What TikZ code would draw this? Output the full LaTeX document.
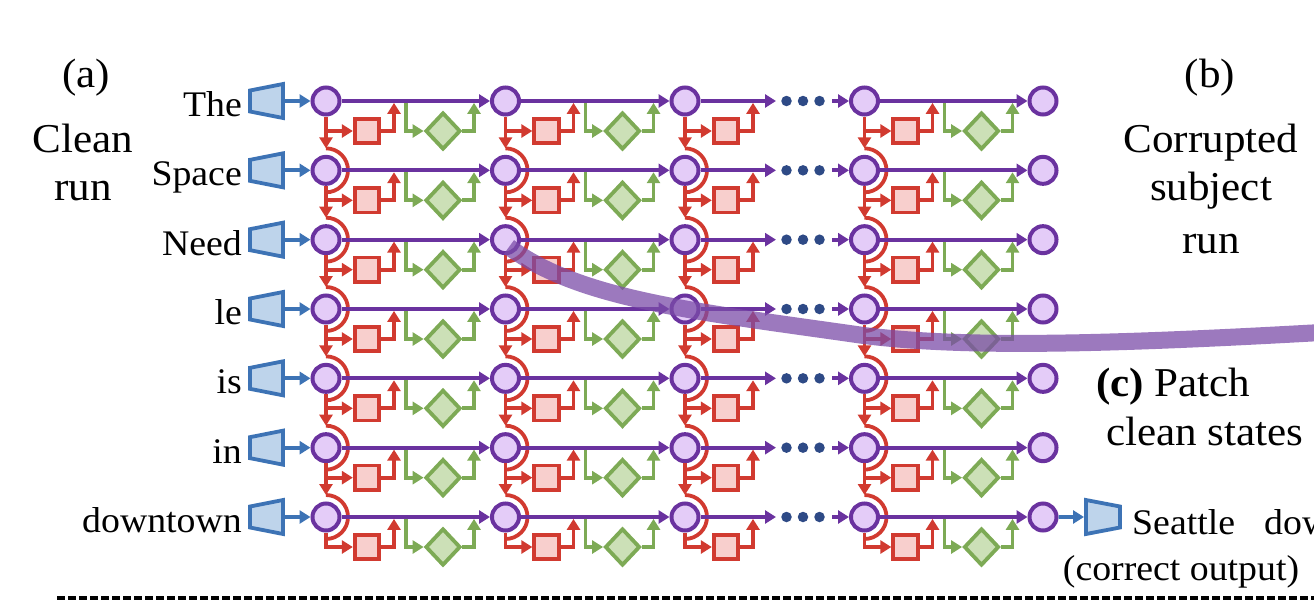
\documentclass[tikz,border=0pt]{standalone}
\usepackage{fontspec}
\setmainfont{Liberation Serif}
\usetikzlibrary{arrows.meta,shapes.geometric}
\definecolor{pur}{HTML}{6A329F}
\definecolor{purfill}{HTML}{E4CCF8}
\definecolor{rd}{HTML}{D13A30}
\definecolor{rdfill}{HTML}{F8CFCD}
\definecolor{gn}{HTML}{7DAA55}
\definecolor{gnfill}{HTML}{CCE0B7}
\definecolor{bl}{HTML}{3D73B5}
\definecolor{blfill}{HTML}{BED4EB}
\definecolor{dotc}{HTML}{2E4A86}
\definecolor{band}{HTML}{7B4CA8}
\newcommand{\sx}[1]{\scalebox{1.05}[1]{#1}}
\begin{document}
\begin{tikzpicture}[x=1pt,y=-1pt,
  cell/.style={circle,draw=pur,fill=purfill,line width=4pt,minimum size=27pt,inner sep=0pt},
  attn/.style={rectangle,draw=rd,fill=rdfill,line width=3.8pt,minimum size=24.5pt,inner sep=0pt},
  mlp/.style={diamond,draw=gn,fill=gnfill,line width=3.8pt,minimum width=35pt,minimum height=37pt,inner sep=0pt},
  embst/.style={draw=bl,fill=blfill,line width=3.8pt,line join=miter},
  arrtip/.style={-{Triangle[length=11pt,width=13pt]}},
  purarr/.style={draw=pur,line width=3.8pt,arrtip},
  redarr/.style={draw=rd,line width=3.8pt,arrtip},
  redline/.style={draw=rd,line width=3.8pt},
  grnarr/.style={draw=gn,line width=3.8pt,arrtip},
  bluarr/.style={draw=bl,line width=3.8pt,arrtip},
  dotn/.style={circle,fill=dotc,minimum size=10.5pt,inner sep=0pt},
  word/.style={font=\fontsize{36}{40}\selectfont,inner sep=0pt},
  panel/.style={font=\fontsize{41}{46}\selectfont,inner sep=0pt},
]
\useasboundingbox (0,0) rectangle (1314,600);
\clip (0,0) rectangle (1314,600);

% cells
\foreach \r in {1,...,7}{
  \pgfmathsetmacro\cy{101+(\r-1)*69.333}
  \foreach \c/\cx in {1/326,2/505.5,3/685,4/864.5,5/1043}{
    \node[cell] (c\c-\r) at (\cx,\cy) {};
  }
}

% attention blocks, arcs, red connectors
\foreach \r in {1,...,7}{
  \pgfmathsetmacro\cy{101+(\r-1)*69.333}
  \foreach \c/\cx in {1/326,2/505.5,3/685,4/864.5}{
    \node[attn] (a\c-\r) at (\cx+41,\cy+30) {};
    \coordinate (ru\c-\r) at (\cx+68,\cy+1.9);
    \draw[redarr] (c\c-\r.south) |- (a\c-\r.west);
    \draw[redarr] (a\c-\r.east) -| (ru\c-\r);
    \ifnum\r>1
      \coordinate (ar\c-\r) at (\cx,\cy-22);
      \draw[redline] (ar\c-\r) arc[start angle=-90,end angle=90,radius=22];
    \fi
    \ifnum\r<7
      \coordinate (rd\c-\r) at (\cx,\cy+30);
      \coordinate (nt\c-\r) at (\cx,\cy+47.333);
      \draw[redarr] (rd\c-\r) -- (nt\c-\r);
    \fi
  }
}

% MLP blocks
\foreach \r in {1,...,7}{
  \pgfmathsetmacro\cy{101+(\r-1)*69.333}
  \foreach \c/\cx in {1/326,2/505.5,4/864.5}{
    \node[mlp] (m\c-\r) at (\cx+117,\cy+30) {};
    \coordinate (gd\c-\r) at (\cx+80,\cy);
    \coordinate (gu\c-\r) at (\cx+148,\cy+1.9);
    \draw[grnarr] (gd\c-\r) |- (m\c-\r.west);
    \draw[grnarr] (m\c-\r.east) -| (gu\c-\r);
  }
}

% purple residual lines, dots, embeddings, words
\foreach \r/\w in {1/The,2/Space,3/Need,4/le,5/is,6/in,7/downtown}{
  \pgfmathsetmacro\cy{101+(\r-1)*69.333}
  \foreach \c/\n in {1/2,2/3,4/5}{
    \draw[purarr] (c\c-\r) -- (c\n-\r);
  }
  \coordinate (pa\r) at (776,\cy);
  \draw[purarr] (c3-\r) -- (pa\r);
  \node[dotn] (dt\r-1) at (786.5,\cy) {};
  \node[dotn] (dt\r-2) at (803,\cy) {};
  \node[dotn] (dt\r-3) at (819.5,\cy) {};
  \coordinate (pb\r) at (832,\cy);
  \draw[purarr] (pb\r) -- (c4-\r);
  \draw[embst] (250,\cy-10.5) -- (283,\cy-17) -- (283,\cy+17) -- (250,\cy+10.5) -- cycle;
  \coordinate (e\r) at (285,\cy);
  \draw[bluarr] (e\r) -- (c1-\r);
  \node[word,anchor=base east] (w\r) at (242,\cy+15.5) {\sx{\w}};
}

% output
\draw[embst] (1086,500) -- (1120,506.5) -- (1120,527.5) -- (1086,534) -- cycle;
\coordinate (oe) at (1084,517);
\draw[bluarr] (c5-7) -- (oe);

% texts
\node[panel,anchor=base] (la) at (86,87) {\sx{(a)}};
\node[panel,anchor=base] (lclean) at (83,152) {\sx{Clean}};
\node[panel,anchor=base] (lrun) at (83,200) {\sx{run}};
\node[panel,anchor=base] (lb) at (1210,87) {\sx{(b)}};
\node[panel,anchor=base] (lcor) at (1211,152) {\sx{Corrupted}};
\node[panel,anchor=base] (lsub) at (1211,200) {\sx{subject}};
\node[panel,anchor=base] (lrun2) at (1211,253) {\sx{run}};
\node[panel,anchor=base west] (lc) at (1096,396) {\sx{\textbf{(c)} Patch}};
\node[panel,anchor=base west] (lcs) at (1106,445) {\sx{clean states}};
\node[word,anchor=base west] (seat) at (1132,534) {\sx{Seattle}};
\node[word,anchor=base west] (dwn) at (1264,534) {\sx{downtown}};
\node[word,anchor=base] (corr) at (1181,580) {\sx{(correct output)}};

% dashed separator
\coordinate (dl) at (57,598);
\coordinate (dr) at (1314,598);
\draw[black,line width=3.5pt,dash pattern=on 7.5pt off 3.5pt] (dl) -- (dr);

% patch band
\draw[draw=band,opacity=0.75,line width=17pt] (509,247) .. controls (580,300) and (700,312) .. (860,335) .. controls (960,348) and (1100,345) .. (1330,332);
\end{tikzpicture}
\end{document}
